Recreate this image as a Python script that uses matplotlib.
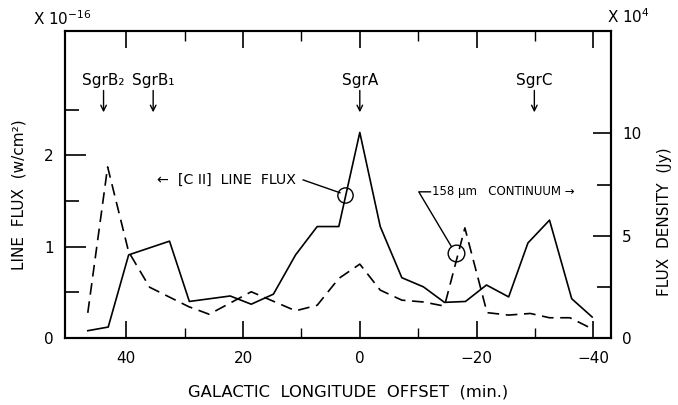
import matplotlib
matplotlib.use("Agg")
import matplotlib.pyplot as plt
from matplotlib.ticker import FixedLocator

# [C II] line flux (left axis, units of 1e-16 W/cm^2)
line_x = [46.6, 43.1, 39.6, 32.6, 29.2, 25.7, 22.2, 18.6, 14.8, 11.0, 7.3, 3.6,
          0.0, -3.5, -7.2, -10.9, -14.5, -18.1, -21.7, -25.5, -28.8, -32.5,
          -36.3, -39.8]
line_flux = [0.08, 0.12, 0.91, 1.06, 0.40, 0.43, 0.46, 0.37, 0.48, 0.91, 1.22,
             1.22, 2.25, 1.22, 0.66, 0.56, 0.39, 0.40, 0.58, 0.45, 1.04, 1.29,
             0.43, 0.23]

# 158 um continuum (right axis, units of 1e4 Jy)
cont_x = [46.6, 43.2, 39.6, 36.0, 29.3, 25.8, 18.6, 11.0, 7.3, 3.6, 0.0, -3.5,
          -7.2, -10.9, -14.5, -18.0, -21.8, -25.5, -29.2, -32.5, -36.0, -40.0]
cont_flux = [1.23, 8.36, 4.21, 2.48, 1.53, 1.16, 2.26, 1.33, 1.60, 2.91, 3.61,
             2.34, 1.85, 1.76, 1.56, 5.38, 1.24, 1.12, 1.20, 0.99, 0.99, 0.42]

sources = ["SgrB\u2082", "SgrB\u2081", "SgrA", "SgrC"]
source_x = [43.9, 35.4, 0.0, -29.9]

x_major = [40, 20, 0, -20, -40]
x_major_labels = ["40", "20", "0", "\u221220", "\u221240"]
x_minor = [30, 10, -10, -30]


def main():
    fig = plt.figure(figsize=(6.78, 4.05), dpi=100)
    ax = fig.add_axes([0.0959, 0.1654, 0.805, 0.758])
    ax2 = ax.twinx()

    ax.plot(line_x, line_flux, color="black", lw=1.2)
    ax2.plot(cont_x, cont_flux, color="black", lw=1.2, ls=(0, (7, 4)))

    ax.set_xlim(50.5, -43.0)
    ax.set_ylim(0, 3.36)
    ax2.set_ylim(0, 15.0)

    ax.set_xticks(x_major)
    ax.set_xticklabels(x_major_labels)
    ax.xaxis.set_minor_locator(FixedLocator(x_minor))
    ax.set_yticks([0, 1, 2])
    ax.yaxis.set_minor_locator(FixedLocator([0.5, 1.5, 2.5]))
    ax2.set_yticks([0, 5, 10])
    ax2.yaxis.set_minor_locator(FixedLocator([2.5, 7.5]))

    ax.tick_params(axis="x", which="both", direction="in", top=True,
                   labelsize=11, pad=9)
    ax.tick_params(axis="x", which="major", length=12, width=1.2)
    ax.tick_params(axis="x", which="minor", length=7, width=1.0)
    ax.tick_params(axis="y", which="both", direction="in", right=False,
                   labelsize=11, pad=8)
    ax.tick_params(axis="y", which="major", length=15, width=1.2)
    ax.tick_params(axis="y", which="minor", length=10, width=1.2)
    ax2.tick_params(axis="y", which="both", direction="in", labelsize=11,
                    pad=8)
    ax2.tick_params(axis="y", which="major", length=13, width=1.2)
    ax2.tick_params(axis="y", which="minor", length=10, width=1.2)

    for a in (ax, ax2):
        for sp in a.spines.values():
            sp.set_linewidth(1.5)

    ax.set_xlabel("GALACTIC  LONGITUDE  OFFSET  (min.)", fontsize=11.8)
    ax.xaxis.set_label_coords(0.518, -0.152)
    ax.set_ylabel("LINE  FLUX  (w/cm\u00b2)", fontsize=11)
    ax.yaxis.set_label_coords(-0.07, 0.466)
    ax2.set_ylabel("FLUX  DENSITY  (Jy)", fontsize=11)
    ax2.yaxis.set_label_coords(1.084, 0.38)

    fig.text(0.049, 0.955, "X 10$^{-16}$", fontsize=11, va="center")
    fig.text(0.895, 0.958, "X 10$^{4}$", fontsize=11, va="center")

    # source markers
    for name, x in zip(sources, source_x):
        ax.text(x, 2.82, name, ha="center", va="center", fontsize=11)
        ax.annotate("", xy=(x, 2.44), xytext=(x, 2.74),
                    arrowprops=dict(arrowstyle="->", color="black", lw=1.0))

    # [C II] line flux callout
    ax.text(34.7, 1.73, "\u2190  [C II]  LINE  FLUX", fontsize=10.2,
            va="center", ha="left")
    ax.plot([9.7, 3.4], [1.73, 1.59], color="black", lw=1.0)
    ax.plot([2.5], [1.56], "o", mfc="none", mec="black", ms=11, mew=1.0)

    # continuum callout
    ax.plot([-16.5], [0.93], "o", mfc="none", mec="black", ms=12, mew=1.0)
    ax.plot([-15.7, -10.1, -12.1], [1.0, 1.60, 1.60], color="black", lw=1.0)
    ax.text(-12.3, 1.60, "158 \u03bcm   CONTINUUM \u2192", fontsize=8.5,
            va="center", ha="left")

    fig.savefig("out.png", dpi=100)
    plt.close(fig)


if __name__ == "__main__":
    main()
